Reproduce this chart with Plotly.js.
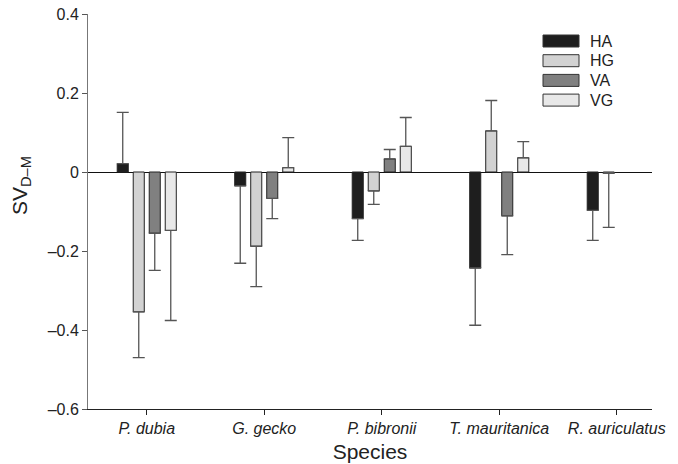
<!DOCTYPE html>
<html>
<head>
<meta charset="utf-8">
<script src="https://cdn.plot.ly/plotly-3.0.1.min.js"></script>
<style>html,body{margin:0;padding:0;background:#fff;}#chart{width:678px;height:464px;}</style>
</head>
<body>
<div id="chart"></div>
<script>
const species = ["P. dubia", "G. gecko", "P. bibronii", "T. mauritanica", "R. auriculatus"];
const seriesNames = ["HA", "HG", "VA", "VG"];
const seriesColors = ["#1e1e1e", "#d2d2d2", "#808080", "#e8e8e8"];

const HA = [0.021, -0.035, -0.118, -0.243, -0.097];
const HG = [-0.354, -0.188, -0.048, 0.104, -0.003];
const VA = [-0.155, -0.067, 0.033, -0.111, null];
const VG = [-0.148, 0.011, 0.065, 0.036, null];

const HA_err = [0.130, 0.196, 0.055, 0.145, 0.076];
const HG_err = [0.116, 0.102, 0.034, 0.077, 0.137];
const VA_err = [0.094, 0.051, 0.024, 0.098, null];
const VG_err = [0.228, 0.076, 0.073, 0.041, null];

const yTickVals = [-0.6, -0.4, -0.2, 0, 0.2, 0.4];
const yTickText = ["\u20130.6", "\u20130.4", "\u20130.2", "0", "0.2", "0.4"];

const values = [HA, HG, VA, VG];
const errors = [HA_err, HG_err, VA_err, VG_err];

const traces = values.map((vals, i) => ({
  type: "bar",
  name: seriesNames[i],
  x: species.map((s, k) => k),
  y: vals,
  marker: {color: seriesColors[i], line: {color: "#222", width: 1}},
  error_y: {
    type: "data",
    symmetric: false,
    array: vals.map((v, k) => (v !== null && v >= 0) ? errors[i][k] : 0),
    arrayminus: vals.map((v, k) => (v !== null && v < 0) ? errors[i][k] : 0),
    color: "#555",
    thickness: 1.3,
    width: 6
  },
  showlegend: false
}));

// custom legend built from series names/colors
const plotL = 88, plotR = 652, plotT = 14, plotB = 409;
const pw = plotR - plotL, ph = plotB - plotT;
const shapes = [];
const annotations = [];
seriesNames.forEach((n, i) => {
  const cy = 41 + i * 19.7;
  shapes.push({
    type: "rect", xref: "paper", yref: "paper",
    x0: (543 - plotL) / pw, x1: (579 - plotL) / pw,
    y0: (plotB - (cy + 6)) / ph, y1: (plotB - (cy - 6)) / ph,
    fillcolor: seriesColors[i], line: {color: "#333", width: 1}
  });
  annotations.push({
    xref: "paper", yref: "paper",
    x: (588 - plotL) / pw, y: (plotB - cy) / ph,
    xanchor: "left", yanchor: "middle",
    text: n, showarrow: false,
    font: {family: "Liberation Sans, Arial, sans-serif", size: 16, color: "#222"}
  });
});
// y-axis title (placed like the reference, above the plot's mid-height)
annotations.push({
  xref: "paper", yref: "paper",
  x: (21 - plotL) / pw, y: (plotB - 186) / ph,
  xanchor: "center", yanchor: "middle",
  textangle: -90,
  text: "SV<sub>D\u2013M</sub>", showarrow: false,
  font: {family: "Liberation Sans, Arial, sans-serif", size: 21, color: "#222"}
});

const layout = {
  width: 678, height: 464,
  margin: {l: plotL, r: 678 - plotR, t: plotT, b: 464 - plotB},
  paper_bgcolor: "#fff", plot_bgcolor: "#fff",
  font: {family: "Liberation Sans, Arial, sans-serif", size: 16, color: "#222"},
  barmode: "group",
  bargap: 0.455,
  bargroupgap: 0.31,
  showlegend: false,
  xaxis: {
    range: [-0.5, 4.3],
    tickvals: species.map((s, k) => k),
    ticktext: species.map(s => "<i>" + s + "</i>"),
    showline: true, linecolor: "#222", linewidth: 1,
    ticks: "outside", ticklen: 5, tickcolor: "#222",
    showgrid: false, zeroline: false,
    tickfont: {size: 16},
    title: {text: "Species", font: {size: 21}, standoff: 8}
  },
  yaxis: {
    range: [-0.6, 0.4],
    tickvals: yTickVals, ticktext: yTickText,
    showline: true, linecolor: "#777", linewidth: 1,
    ticks: "outside", ticklen: 5, tickcolor: "#555",
    showgrid: false,
    zeroline: true, zerolinecolor: "#111", zerolinewidth: 1,
    tickfont: {size: 16}
  },
  shapes: shapes,
  annotations: annotations
};

Plotly.newPlot("chart", traces, layout, {displayModeBar: false, staticPlot: true});
</script>
</body>
</html>
